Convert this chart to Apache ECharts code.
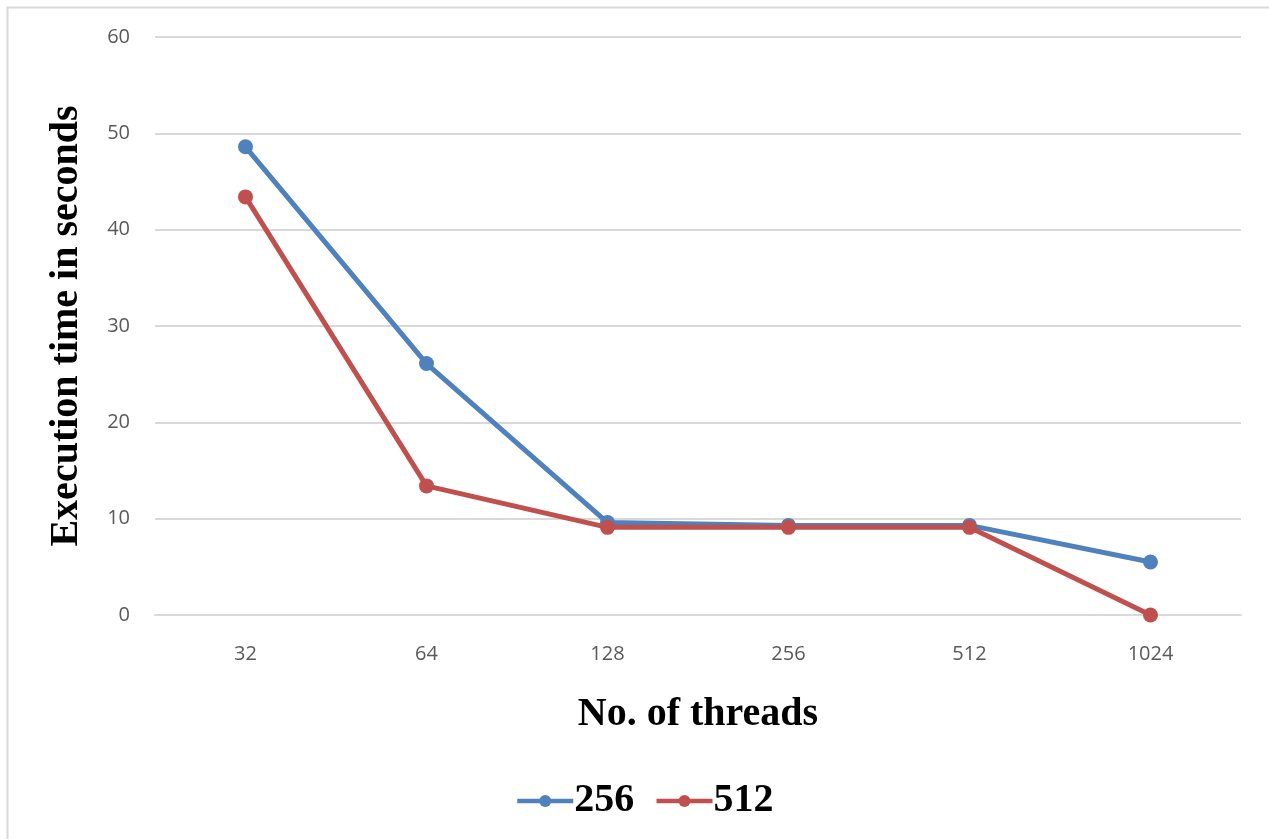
<!DOCTYPE html>
<html>
<head>
<meta charset="utf-8">
<script src="https://cdn.jsdelivr.net/npm/echarts@6/dist/echarts.min.js"></script>
<style>
  html, body { margin: 0; padding: 0; background: #fff; }
  #main { width: 1269px; height: 839px; }
</style>
</head>
<body>
<div id="main"></div>
<script>
var threads = ["32", "64", "128", "256", "512", "1024"];
var size256 = [48.6, 26.1, 9.6, 9.3, 9.3, 5.5];
var size512 = [43.4, 13.4, 9.1, 9.1, 9.1, 0];
var yTicks = { min: 0, max: 60, interval: 10 };

var myChart = echarts.init(document.getElementById("main"));

var option = {
  animation: false,
  graphic: [
    {
      type: "rect",
      shape: { x: 7.5, y: 7.5, width: 1300, height: 900 },
      style: { fill: "none", stroke: "#d9d9d9", lineWidth: 2 },
      silent: true
    }
  ],
  grid: { left: 155, right: 28, top: 37, bottom: 224 },
  legend: {
    data: ["256", "512"],
    bottom: 13,
    left: 510,
    itemWidth: 56,
    itemHeight: 15,
    itemGap: 20,
    lineStyle: { width: 4.5 },
    textStyle: {
      fontFamily: "Liberation Serif",
      fontWeight: "bold",
      fontSize: 40,
      color: "#000",
      padding: [0, 0, 0, -4]
    }
  },
  xAxis: {
    type: "category",
    data: threads,
    name: "No. of threads",
    nameLocation: "middle",
    nameGap: 80,
    nameTextStyle: {
      fontFamily: "Liberation Serif",
      fontWeight: "bold",
      fontSize: 40,
      color: "#000"
    },
    axisLine: { show: true, lineStyle: { color: "#d9d9d9", width: 2 } },
    axisTick: { show: false },
    axisLabel: {
      fontFamily: "Open Sans",
      fontSize: 20,
      color: "#595959",
      margin: 29
    }
  },
  yAxis: {
    type: "value",
    min: yTicks.min,
    max: yTicks.max,
    interval: yTicks.interval,
    name: "Execution time in seconds",
    nameLocation: "middle",
    nameGap: 68,
    nameTextStyle: {
      fontFamily: "Liberation Serif",
      fontWeight: "bold",
      fontSize: 40,
      color: "#000"
    },
    axisLine: { show: false },
    axisTick: { show: false },
    axisLabel: {
      fontFamily: "Open Sans",
      fontSize: 20,
      color: "#595959",
      margin: 25
    },
    splitLine: { lineStyle: { color: "#d9d9d9", width: 2 } }
  },
  series: [
    {
      name: "256",
      type: "line",
      data: size256,
      symbol: "circle",
      symbolSize: 15,
      lineStyle: { color: "#4f81bd", width: 5 },
      itemStyle: { color: "#4f81bd" }
    },
    {
      name: "512",
      type: "line",
      data: size512,
      symbol: "circle",
      symbolSize: 15,
      lineStyle: { color: "#c0504d", width: 5 },
      itemStyle: { color: "#c0504d" }
    }
  ]
};

myChart.setOption(option);
</script>
</body>
</html>
